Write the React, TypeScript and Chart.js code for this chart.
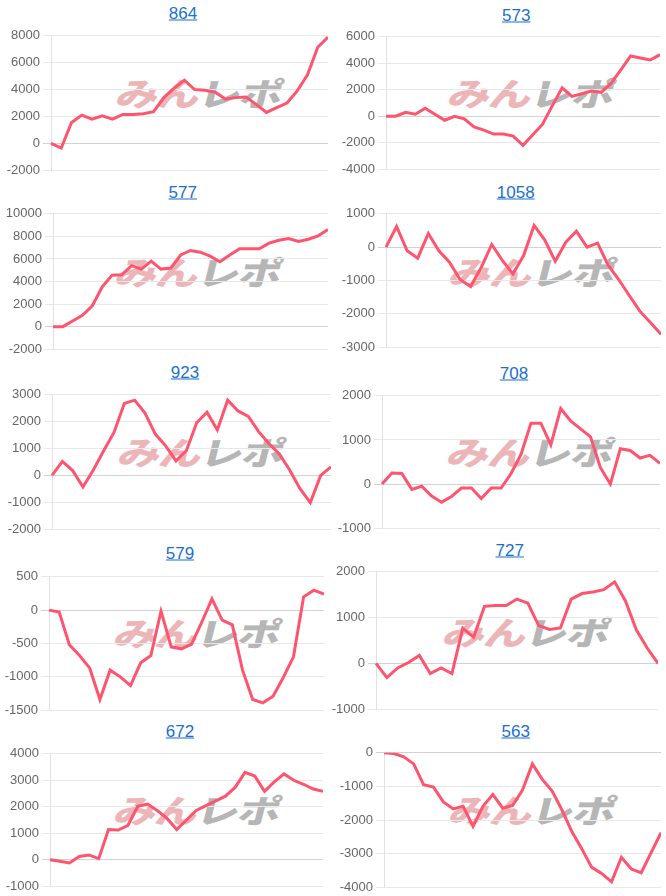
import React, { useEffect, useRef } from "react";
import { Chart, registerables } from "chart.js";
Chart.register(...registerables);

const titles = ["864", "573", "577", "1058", "923", "708", "579", "727", "672", "563"];

const s864 = [0, -350, 1550, 2100, 1800, 2050, 1800, 2150, 2150, 2200, 2350, 3400, 4100, 4700, 4000, 3950, 3800, 3300, 3400, 3450, 2900, 2300, 2650, 3000, 3900, 5100, 7150, 7900];
const s573 = [0, 0, 300, 150, 600, 150, -300, 0, -200, -800, -1050, -1350, -1350, -1500, -2200, -1400, -600, 800, 2150, 1500, 1700, 1900, 1800, 2500, 3500, 4550, 4400, 4250, 4650];
const s577 = [0, 0, 500, 1000, 1850, 3500, 4550, 4600, 5400, 5100, 5800, 5100, 5200, 6350, 6750, 6600, 6250, 5750, 6350, 6900, 6900, 6900, 7400, 7650, 7800, 7550, 7750, 8050, 8600];
const s1058 = [0, 620, -110, -330, 410, -110, -450, -970, -1180, -610, 80, -400, -800, -260, 650, 220, -420, 150, 480, 0, 120, -540, -970, -1450, -1920, -2260, -2610];
const s923 = [0, 520, 180, -430, 200, 920, 1600, 2680, 2800, 2320, 1540, 1100, 540, 920, 1960, 2350, 1690, 2800, 2400, 2200, 1630, 1180, 800, 200, -490, -1010, 0, 320];
const s708 = [0, 250, 240, -120, -50, -270, -410, -280, -90, -90, -330, -90, -90, 240, 670, 1380, 1380, 890, 1710, 1430, 1250, 1070, 370, 0, 800, 760, 590, 650, 470];
const s579 = [0, -30, -520, -680, -870, -1340, -900, -1000, -1130, -790, -680, -15, -550, -580, -510, -180, 170, -150, -220, -900, -1340, -1390, -1290, -1010, -700, 200, 300, 240];
const s727 = [0, -310, -100, 20, 175, -220, -100, -220, 770, 570, 1245, 1265, 1265, 1405, 1315, 825, 740, 775, 1405, 1525, 1560, 1610, 1780, 1365, 735, 335, 0];
const s672 = [0, -60, -120, 120, 180, 40, 1140, 1120, 1300, 2020, 2100, 1860, 1560, 1140, 1500, 1860, 2040, 2220, 2400, 2740, 3300, 3160, 2580, 2940, 3240, 3000, 2850, 2670, 2580];
const s563 = [0, -20, -120, -330, -950, -1020, -1460, -1670, -1590, -2190, -1590, -1240, -1650, -1570, -1110, -330, -790, -1140, -1710, -2350, -2860, -3410, -3590, -3840, -3110, -3460, -3570, -2970, -2380];

const seriesList = [s864, s573, s577, s1058, s923, s708, s579, s727, s672, s563];

const yMins = [-2000, -4000, -2000, -3000, -2000, -1000, -1500, -1000, -1000, -4000];
const yMaxs = [8000, 6000, 10000, 1000, 3000, 2000, 500, 2000, 4000, 0];
const ySteps = [2000, 2000, 2000, 1000, 1000, 1000, 500, 1000, 1000, 1000];

// page-coordinate layout for each panel
const boxes = [
  { pl: 50.7, pr: 328.3, pt: 33.3, pb: 172.7, tx: 183, ty: 13.3, lx: 200, ly: 93 },
  { pl: 386.3, pr: 659.7, pt: 34, pb: 171.7, tx: 516.3, ty: 15, lx: 532, ly: 93 },
  { pl: 52.7, pr: 328.3, pt: 211, pb: 352, tx: 182.7, ty: 191.7, lx: 199, ly: 272 },
  { pl: 385.7, pr: 661, pt: 211, pb: 350, tx: 515.7, ty: 191.7, lx: 533, ly: 271.5 },
  { pl: 51.7, pr: 331, pt: 391.7, pb: 532, tx: 185, ty: 372.3, lx: 202, ly: 452 },
  { pl: 382.3, pr: 660, pt: 392.3, pb: 531.3, tx: 514, ty: 372.7, lx: 531, ly: 452 },
  { pl: 49.3, pr: 324, pt: 573.3, pb: 712.7, tx: 180, ty: 553.3, lx: 197.5, ly: 633 },
  { pl: 375.7, pr: 658, pt: 569, pb: 712, tx: 509.7, ty: 550, lx: 526.5, ly: 631.5 },
  { pl: 50, pr: 322.7, pt: 750.3, pb: 888.7, tx: 180, ty: 731.3, lx: 197.5, ly: 810 },
  { pl: 383.7, pr: 661, pt: 749.7, pb: 889.7, tx: 515.7, ty: 730.7, lx: 533, ly: 810 },
];

const AXW = 50;
const FONT_SIZE = 13;
const PADV = (FONT_SIZE * 1.2) / 2;
const LINE_COLOR = "rgb(255, 84, 110)";

function Panel({ idx }: { idx: number }) {
  const ref = useRef<HTMLCanvasElement | null>(null);
  const b = boxes[idx];
  const left = Math.round(b.pl) - AXW;
  const width = Math.round(b.pr) - left;
  const top = Math.round(b.pt - PADV);
  const height = Math.round(b.pb + PADV) - top;

  useEffect(() => {
    if (!ref.current) return;
    const data = seriesList[idx];
    const labels = data.map((_, i) => String(i + 1));
    const chart = new Chart(ref.current, {
      type: "line",
      data: {
        labels,
        datasets: [
          {
            data,
            borderColor: LINE_COLOR,
            backgroundColor: LINE_COLOR,
            borderWidth: 3,
            pointRadius: 0,
            tension: 0,
            fill: false,
          },
        ],
      },
      options: {
        responsive: false,
        animation: false,
        layout: { padding: 0 },
        plugins: {
          legend: { display: false },
          tooltip: { enabled: false },
          title: { display: false },
        },
        scales: {
          x: { display: false },
          y: {
            min: yMins[idx],
            max: yMaxs[idx],
            ticks: {
              stepSize: ySteps[idx],
              color: "#666",
              font: { family: '"Liberation Sans", Arial, sans-serif', size: FONT_SIZE },
              callback: (v: any) => String(v),
            },
            grid: {
              color: (ctx: any) => (ctx.tick && ctx.tick.value === 0 ? "#d2d2d2" : "#e8e8e8"),
              tickLength: 8,
            },
            border: { color: "#e2e2e2" },
            afterFit: (s: any) => {
              s.width = AXW;
            },
          },
        },
      },
    });
    return () => chart.destroy();
  }, [idx]);

  return (
    <>
      <div
        style={{
          position: "absolute",
          left: b.lx,
          top: b.ly,
          transform: "translate(-50%, -50%) skewX(-14deg) scale(1.25, 0.95)",
          fontFamily: '"Noto Sans CJK JP", sans-serif',
          fontWeight: 900,
          fontSize: 34,
          lineHeight: 1,
          whiteSpace: "nowrap",
          letterSpacing: -1,
          userSelect: "none",
        }}
      >
        <span style={{ color: "#ecb6b8" }}>みん</span>
        <span style={{ color: "#b6b6b6" }}>レポ</span>
      </div>
      <canvas
        ref={ref}
        width={width}
        height={height}
        style={{ position: "absolute", left, top, width, height }}
      />
      <a
        href="#"
        onClick={(e) => e.preventDefault()}
        style={{
          position: "absolute",
          left: b.tx,
          top: b.ty,
          transform: "translate(-50%, -50%)",
          color: "#1c6fd1",
          fontFamily: '"Liberation Sans", Arial, sans-serif',
          fontSize: 17,
          lineHeight: 1,
          textDecoration: "underline",
          whiteSpace: "nowrap",
        }}
      >
        {titles[idx]}
      </a>
    </>
  );
}

export default function App() {
  return (
    <div style={{ position: "absolute", left: 0, top: 0, width: 666, height: 896, background: "#fff", overflow: "hidden" }}>
      {titles.map((_, i) => (
        <Panel key={i} idx={i} />
      ))}
    </div>
  );
}
